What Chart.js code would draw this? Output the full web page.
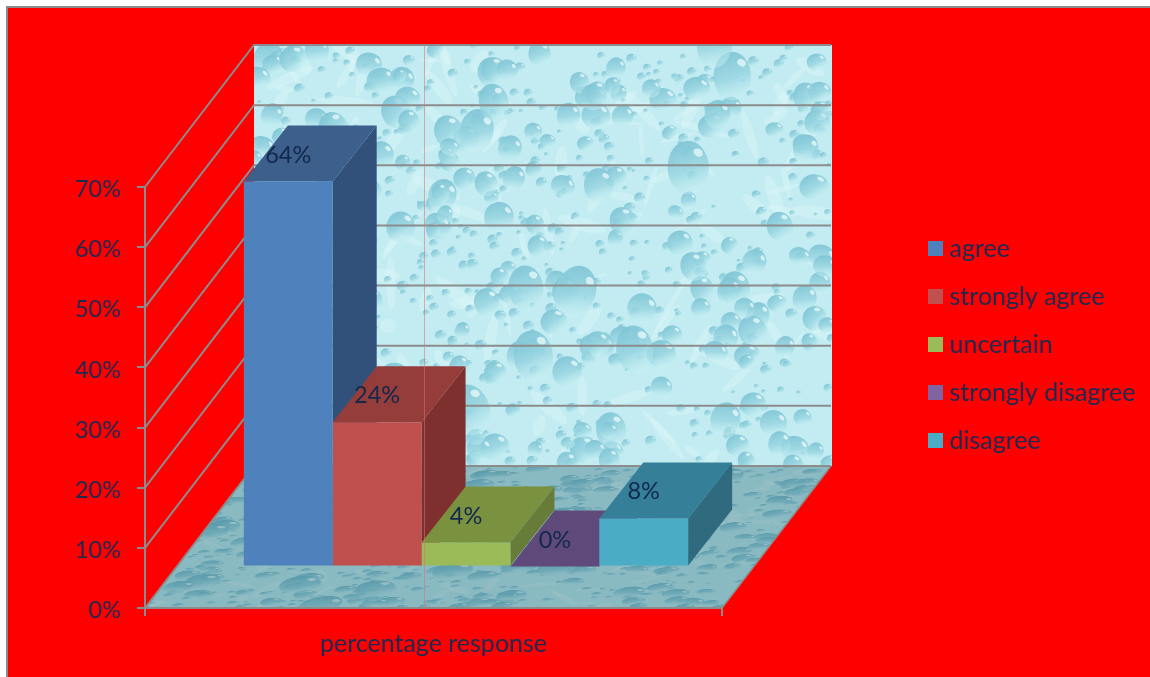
<!DOCTYPE html>
<html>
<head>
<meta charset="utf-8">
<title>percentage response</title>
<script src="https://cdn.jsdelivr.net/npm/chart.js@4/dist/chart.umd.js"></script>
<style>
  html, body { margin: 0; padding: 0; background: #fff; }
  canvas { display: block; }
</style>
</head>
<body>
<canvas id="chart" width="1150" height="677"></canvas>
<script>
// Values
const categories = ['percentage response'];
const seriesNames = ['agree', 'strongly agree', 'uncertain', 'strongly disagree', 'disagree'];
const seriesValues = [64, 24, 4, 0, 8];
const yTicks = [0, 10, 20, 30, 40, 50, 60, 70];

// Faces of the 3D bars
const frontColors = ['#4f81bd', '#c0504d', '#9bbb59', '#8064a2', '#4bacc6'];
const topColors = ['#3c5f8c', '#943d3a', '#7a9140', '#604a7b', '#357f98'];
const sideColors = ['#31517a', '#7e302e', '#687c39', '#523e6a', '#2f6a7e'];

const textColor = '#1c2a52';
const axisColor = '#8c8c8c';
const fontFamily = 'Lato, "Open Sans", sans-serif';

// Depth of the fake 3D box
const wallShift = { x: 109, y: -142 };
const barShift = { x: 32.5, y: -41.5 };
const barDepth = { x: 44, y: -56 };

// Water drop texture, only decoration
function hash(n) {
  const s = Math.sin(n * 127.1 + 311.7) * 43758.5453;
  return s - Math.floor(s);
}

function drawDrop(c, x, y, rx, ry, angle) {
  c.save();
  c.translate(x, y);
  c.rotate(angle);
  const g = c.createLinearGradient(-rx * 0.5, -ry, rx * 0.3, ry);
  g.addColorStop(0, 'rgba(125,195,212,0.95)');
  g.addColorStop(0.55, 'rgba(150,212,224,0.8)');
  g.addColorStop(1, 'rgba(205,243,246,0.4)');
  c.fillStyle = g;
  c.beginPath();
  c.ellipse(0, 0, rx, ry, 0, 0, Math.PI * 2);
  c.fill();
  c.fillStyle = 'rgba(235,250,250,0.75)';
  c.beginPath();
  c.ellipse(rx * 0.5, -ry * 0.55, rx * 0.24, ry * 0.14, 0.6, 0, Math.PI * 2);
  c.fill();
  c.restore();
}

function makeTexture(w, h) {
  const tex = document.createElement('canvas');
  tex.width = w;
  tex.height = h;
  const c = tex.getContext('2d');
  c.fillStyle = '#c2ecf1';
  c.fillRect(0, 0, w, h);
  // pale streaks
  for (let i = 0; i < 140; i++) {
    c.fillStyle = 'rgba(225,248,250,0.35)';
    c.beginPath();
    c.ellipse(hash(i + 900) * w, hash(i + 1400) * h, 8 + hash(i + 1900) * 22, 2 + hash(i + 2300) * 5, hash(i + 2800) * 3, 0, Math.PI * 2);
    c.fill();
  }
  // tiny drops
  for (let i = 0; i < 520; i++) {
    const r = 2 + hash(i + 3100) * 4;
    drawDrop(c, hash(i + 3500) * w, hash(i + 4200) * h, r, r * 0.9, 0);
  }
  // medium drops
  for (let i = 0; i < 210; i++) {
    const r = 7 + hash(i + 5000) * 8;
    drawDrop(c, hash(i + 5600) * w, hash(i + 6100) * h, r, r * (0.8 + hash(i + 6600) * 0.4), -0.5 + hash(i + 7100));
  }
  // big drops
  for (let i = 0; i < 16; i++) {
    const r = 14 + hash(i + 7600) * 7;
    drawDrop(c, hash(i + 8100) * w, hash(i + 8600) * h, r, r * 1.3, hash(i + 9100) * 0.8 - 0.4);
  }
  return tex;
}

function facePath(ctx, pts) {
  ctx.beginPath();
  ctx.moveTo(pts[0][0], pts[0][1]);
  for (let i = 1; i < pts.length; i++) ctx.lineTo(pts[i][0], pts[i][1]);
  ctx.closePath();
}

const box3d = {
  id: 'box3d',
  afterLayout(chart) {
    // legend sits outside the plot, right of the box
    const legend = chart.legend;
    legend.left = 911;
    legend.right = chart.width;
    legend.top = 213;
    legend.bottom = chart.height;
  },
  beforeDraw(chart) {
    const ctx = chart.ctx;
    const area = chart.chartArea;
    ctx.save();
    ctx.fillStyle = '#ffffff';
    ctx.fillRect(0, 0, chart.width, chart.height);
    ctx.fillStyle = axisColor;
    ctx.fillRect(6, 6, chart.width - 6, chart.height - 6);
    ctx.fillStyle = '#ff0000';
    ctx.fillRect(8, 8, chart.width - 8, chart.height - 8);

    const w = area.right - area.left;
    const h = area.bottom - area.top;
    const tex = makeTexture(w + 1, h);

    // back wall
    ctx.drawImage(tex, area.left + wallShift.x, area.top + wallShift.y);

    // floor, the same texture squashed and sheared and darker
    ctx.save();
    facePath(ctx, [
      [area.left, area.bottom], [area.right, area.bottom],
      [area.right + wallShift.x, area.bottom + wallShift.y],
      [area.left + wallShift.x, area.bottom + wallShift.y]
    ]);
    ctx.clip();
    const shear = wallShift.x / wallShift.y;
    ctx.translate(area.left + wallShift.x, area.bottom + wallShift.y);
    ctx.transform(1, 0, shear, 1, 0, 0);
    ctx.drawImage(tex, 0, 0, w, h, 0, 0, w, -wallShift.y);
    ctx.globalCompositeOperation = 'multiply';
    ctx.fillStyle = '#b4c8cd';
    ctx.fillRect(-20, -20, w + 40, -wallShift.y + 40);
    ctx.restore();

    // side wall and back wall grid
    const y = chart.scales.y;
    ctx.strokeStyle = axisColor;
    ctx.lineWidth = 2;
    yTicks.forEach(v => {
      const py = y.getPixelForValue(v);
      ctx.beginPath();
      ctx.moveTo(area.left, py);
      ctx.lineTo(area.left + wallShift.x, py + wallShift.y);
      ctx.lineTo(area.right + wallShift.x, py + wallShift.y);
      ctx.stroke();
    });
    ctx.lineWidth = 1.5;
    ctx.beginPath();
    ctx.moveTo(area.right, area.bottom);
    ctx.lineTo(area.right + wallShift.x, area.bottom + wallShift.y);
    ctx.stroke();
    ctx.restore();
  },
  beforeDatasetsDraw(chart) {
    const ctx = chart.ctx;
    // top and side faces go first, left to right, the fronts cover them after
    ctx.save();
    ctx.translate(barShift.x, barShift.y);
    chart.data.datasets.forEach((ds, i) => {
      const bar = chart.getDatasetMeta(i).data[0];
      const left = bar.x - bar.width / 2;
      const right = bar.x + bar.width / 2;
      const d = barDepth;
      ctx.fillStyle = sideColors[i];
      facePath(ctx, [[right, bar.y], [right + d.x, bar.y + d.y], [right + d.x, bar.base + d.y], [right, bar.base]]);
      ctx.fill();
      ctx.fillStyle = topColors[i];
      facePath(ctx, [[left, bar.y], [left + d.x, bar.y + d.y], [right + d.x, bar.y + d.y], [right, bar.y]]);
      ctx.fill();
    });
    // the library draws the front faces inside this translate
  },
  afterDatasetsDraw(chart) {
    const ctx = chart.ctx;
    ctx.font = '23.5px ' + fontFamily;
    ctx.fillStyle = '#12284c';
    ctx.textAlign = 'center';
    ctx.textBaseline = 'middle';
    chart.data.datasets.forEach((ds, i) => {
      const bar = chart.getDatasetMeta(i).data[0];
      ctx.fillText(ds.data[0] + '%', bar.x, bar.y + barDepth.y / 2 + 1.5);
    });
    ctx.restore();

    // thin line down the middle of the box, it is in the picture
    const area = chart.chartArea;
    ctx.save();
    ctx.strokeStyle = 'rgba(225,110,110,0.55)';
    ctx.lineWidth = 1;
    ctx.beginPath();
    ctx.moveTo(424.5, area.top + wallShift.y);
    ctx.lineTo(424.5, area.bottom);
    ctx.stroke();
    ctx.restore();
  }
};

new Chart(document.getElementById('chart'), {
  type: 'bar',
  data: {
    labels: categories,
    datasets: seriesNames.map((name, i) => ({
      label: name,
      data: [seriesValues[i]],
      backgroundColor: frontColors[i],
      borderWidth: 0
    }))
  },
  options: {
    responsive: false,
    animation: false,
    categoryPercentage: 0.77,
    barPercentage: 1,
    layout: { padding: { left: 60, top: 187, right: 428, bottom: 0 } },
    scales: {
      x: {
        afterFit(scale) { scale.height = 69; },
        border: { color: axisColor, width: 2 },
        grid: { drawOnChartArea: false, color: axisColor, lineWidth: 2, tickLength: 8 },
        ticks: { color: textColor, font: { family: fontFamily, size: 25 }, padding: 13 }
      },
      y: {
        min: 0,
        max: 70,
        afterFit(scale) { scale.width = 85; },
        border: { color: axisColor, width: 2 },
        grid: { drawOnChartArea: false, color: axisColor, lineWidth: 2, tickLength: 8 },
        ticks: {
          stepSize: 10,
          color: textColor,
          padding: 16,
          labelOffset: 2.5,
          font: { family: fontFamily, size: 23.5 },
          callback: v => v + '%'
        }
      }
    },
    plugins: {
      title: { display: false },
      tooltip: { enabled: false },
      legend: {
        position: 'chartArea',
        align: 'start',
        labels: {
          usePointStyle: true,
          pointStyle: 'rect',
          boxWidth: 3,
          boxHeight: 15,
          padding: 23,
          color: textColor,
          font: { family: fontFamily, size: 25 }
        }
      }
    }
  },
  plugins: [box3d]
});
</script>
</body>
</html>
